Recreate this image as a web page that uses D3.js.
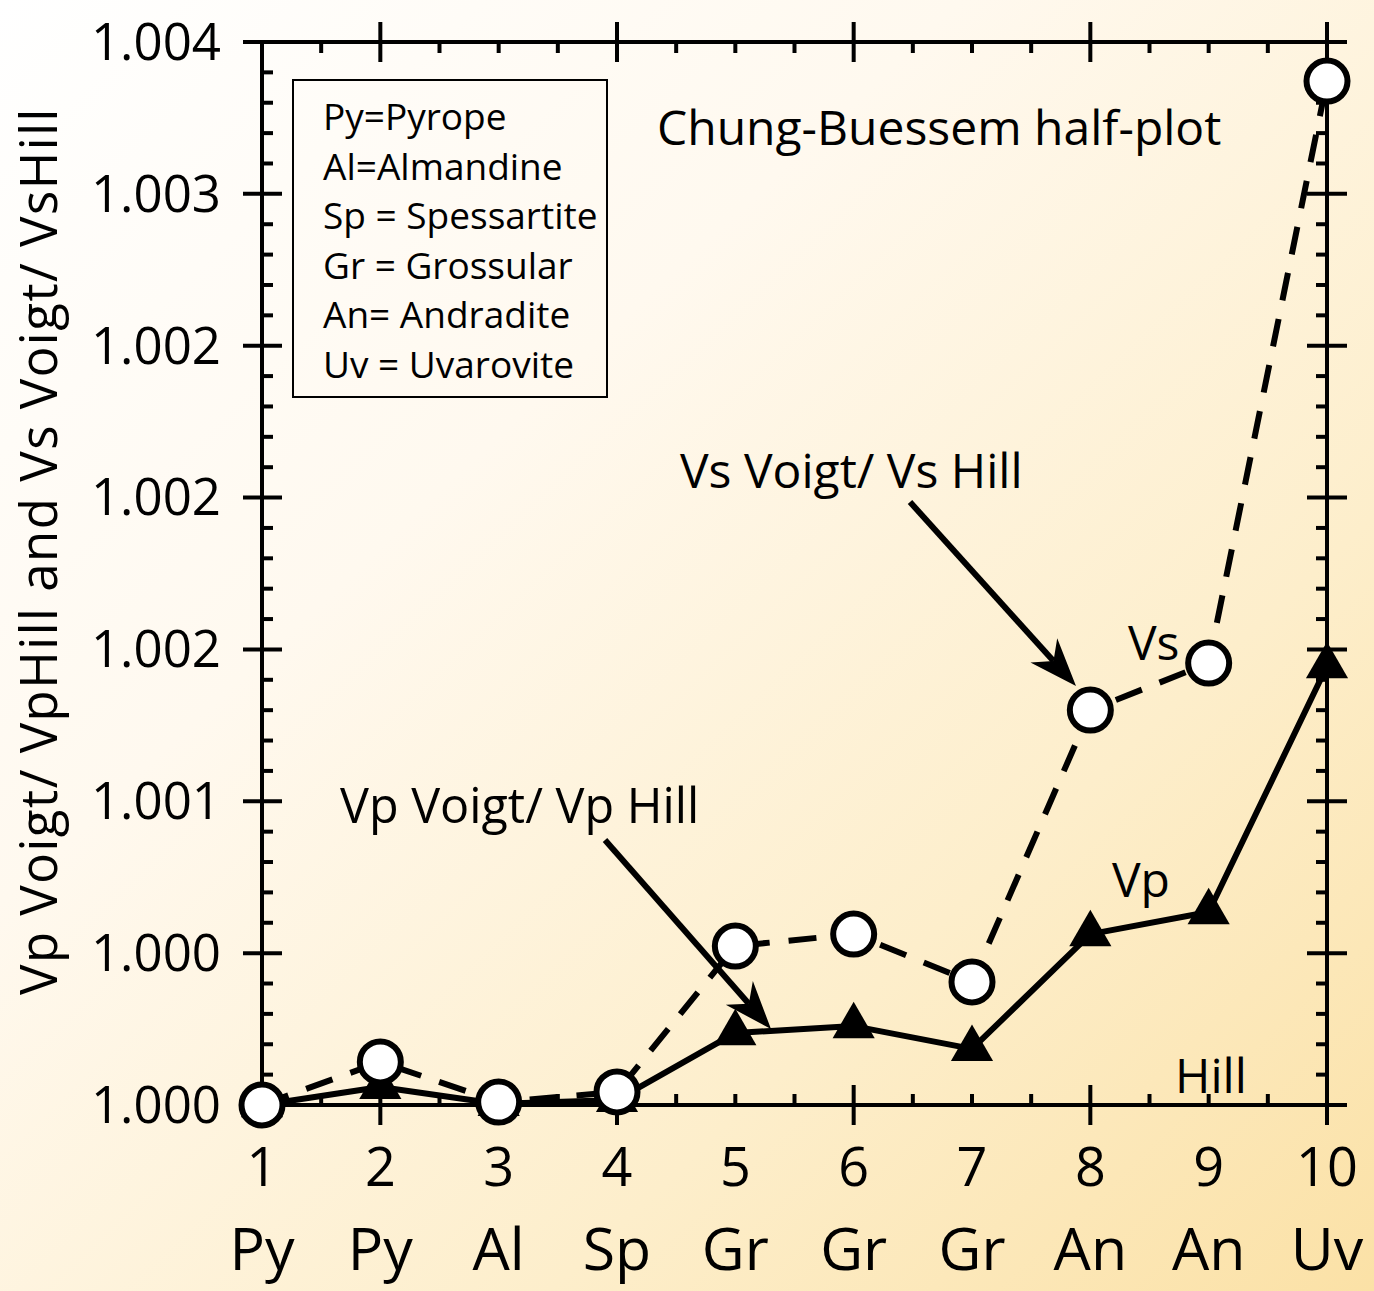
<!DOCTYPE html>
<html>
<head>
<meta charset="utf-8">
<script src="https://cdn.jsdelivr.net/npm/d3@7"></script>
<style>
html,body{margin:0;padding:0;overflow:hidden;}
svg{display:block;}
text{font-family:"Open Sans","Noto Sans",sans-serif;fill:#000;}
</style>
</head>
<body>
<svg id="chart" width="1374" height="1291"></svg>
<script>
// ---- data ----
const positions = [1,2,3,4,5,6,7,8,9,10];
const categories = ["Py","Py","Al","Sp","Gr","Gr","Gr","An","An","Uv"];
const vsRatio = [1.000000,1.000162,1.000011,1.000049,1.000598,1.000643,1.000463,1.001486,1.001663,1.003853];
const vpRatio = [1.000000,1.000068,1.000004,1.000019,1.000271,1.000297,1.000211,1.000643,1.000726,1.001652];
const yTickValues = [1.0, 1.0+0.004/7, 1.0+0.008/7, 1.0+0.012/7, 1.0+0.016/7, 1.0+0.020/7, 1.0+0.024/7, 1.004];
const yTickLabels = ["1.000","1.000","1.001","1.002","1.002","1.002","1.003","1.004"];
const legendLines = ["Py=Pyrope","Al=Almandine","Sp = Spessartite","Gr = Grossular","An= Andradite","Uv = Uvarovite"];

const svg = d3.select("#chart");
const W = 1374, H = 1291;

// background gradient
const defs = svg.append("defs");
const grad = defs.append("linearGradient").attr("id","bg")
  .attr("x1","0").attr("y1","0").attr("x2","1").attr("y2","1");
grad.append("stop").attr("offset","0%").attr("stop-color","#ffffff");
grad.append("stop").attr("offset","35%").attr("stop-color","#fff9ef");
grad.append("stop").attr("offset","70%").attr("stop-color","#fdeecb");
grad.append("stop").attr("offset","100%").attr("stop-color","#fbe1a6");
svg.append("rect").attr("width",W).attr("height",H).attr("fill","url(#bg)");

const x = d3.scaleLinear().domain([1,10]).range([262,1327]);
const y = d3.scaleLinear().domain([1.0,1.004]).range([1105,42]);

const axisG = svg.append("g").attr("stroke","#000").attr("stroke-width",4).attr("fill","none");
// frame
axisG.append("line").attr("x1",x(1)).attr("x2",x(10)).attr("y1",y(1.0)).attr("y2",y(1.0)).attr("stroke-linecap","square");
axisG.append("line").attr("x1",x(1)-19).attr("x2",x(10)+20).attr("y1",y(1.004)).attr("y2",y(1.004));
axisG.append("line").attr("x1",x(1)).attr("x2",x(1)).attr("y1",y(1.004)).attr("y2",y(1.0)+2);
axisG.append("line").attr("x1",x(10)).attr("x2",x(10)).attr("y1",y(1.004)).attr("y2",y(1.0)+2);

// y ticks
const yMinor = [];
for (let i=0;i<yTickValues.length-1;i++){
  for (let k=1;k<5;k++) yMinor.push(yTickValues[i] + (yTickValues[i+1]-yTickValues[i])*k/5);
}
yTickValues.forEach(v=>{
  axisG.append("line").attr("x1",x(1)-19).attr("x2",x(1)+20).attr("y1",y(v)).attr("y2",y(v));
  axisG.append("line").attr("x1",x(10)-20).attr("x2",x(10)+20).attr("y1",y(v)).attr("y2",y(v));
});
yMinor.forEach(v=>{
  axisG.append("line").attr("x1",x(1)).attr("x2",x(1)+11).attr("y1",y(v)).attr("y2",y(v));
  axisG.append("line").attr("x1",x(10)-11).attr("x2",x(10)).attr("y1",y(v)).attr("y2",y(v));
});
// x ticks
const xMajor = [2,4,6,8,10];
const xMinor = d3.range(1.5,10,0.5).filter(v=>!xMajor.includes(v));
xMajor.forEach(v=>{
  axisG.append("line").attr("x1",x(v)).attr("x2",x(v)).attr("y1",y(1.0)-20).attr("y2",y(1.0)+20);
  axisG.append("line").attr("x1",x(v)).attr("x2",x(v)).attr("y1",y(1.004)-20).attr("y2",y(1.004)+20);
});
xMinor.forEach(v=>{
  axisG.append("line").attr("x1",x(v)).attr("x2",x(v)).attr("y1",y(1.0)-11).attr("y2",y(1.0));
  axisG.append("line").attr("x1",x(v)).attr("x2",x(v)).attr("y1",y(1.004)).attr("y2",y(1.004)+11);
});

// y tick labels
svg.append("g").selectAll("text").data(yTickValues).join("text")
  .attr("x",221).attr("y",d=>y(d)).attr("dy","0.35em")
  .attr("text-anchor","end").attr("font-size",51).text((d,i)=>yTickLabels[i]);

// x tick labels
svg.append("g").selectAll("text").data(positions).join("text")
  .attr("x",d=>x(d)).attr("y",1186).attr("text-anchor","middle").attr("font-size",54)
  .text(d=>String(d));
svg.append("g").selectAll("text").data(positions).join("text")
  .attr("x",d=>x(d)).attr("y",1270).attr("text-anchor","middle").attr("font-size",59)
  .text((d,i)=>categories[i]);

// y axis title
svg.append("text").attr("transform","translate(57,551) rotate(-90)")
  .attr("text-anchor","middle").attr("font-size",51).attr("letter-spacing",1.5)
  .text("Vp Voigt/ VpHill and  Vs Voigt/ VsHill");

// legend box
svg.append("rect").attr("x",293).attr("y",80).attr("width",314).attr("height",317)
  .attr("fill","none").attr("stroke","#000").attr("stroke-width",2);
svg.append("g").selectAll("text").data(legendLines).join("text")
  .attr("x",323).attr("y",(d,i)=>130+i*49.6).attr("font-size",37).text(d=>d);

// annotations
svg.append("text").attr("x",657).attr("y",145).attr("font-size",48).text("Chung-Buessem half-plot");
svg.append("text").attr("x",680).attr("y",488).attr("font-size",48).text("Vs Voigt/ Vs Hill");
svg.append("text").attr("x",340).attr("y",823).attr("font-size",48.5).text("Vp Voigt/ Vp Hill");
svg.append("text").attr("x",1128).attr("y",660).attr("font-size",48).text("Vs");
svg.append("text").attr("x",1112).attr("y",897).attr("font-size",48).text("Vp");
svg.append("text").attr("x",1175).attr("y",1093).attr("font-size",48).text("Hill");

// arrows
function arrow(x1,y1,x2,y2){
  const ang = Math.atan2(y2-y1,x2-x1);
  const L = 48, Wd = 18;
  const bx = x2 - L*Math.cos(ang), by = y2 - L*Math.sin(ang);
  const nx = -Math.sin(ang), ny = Math.cos(ang);
  const ix = x2 - 0.7*L*Math.cos(ang), iy = y2 - 0.7*L*Math.sin(ang);
  svg.append("line").attr("x1",x1).attr("y1",y1).attr("x2",ix).attr("y2",iy)
    .attr("stroke","#000").attr("stroke-width",6);
  svg.append("path").attr("d",`M${x2},${y2}L${bx+nx*Wd},${by+ny*Wd}L${ix},${iy}L${bx-nx*Wd},${by-ny*Wd}Z`)
    .attr("fill","#000");
}
arrow(910,502,1076,686);
arrow(605,840,771,1029);

// Vp line
const line = d3.line().x((d,i)=>x(positions[i])).y(d=>y(d));
svg.append("path").attr("d",line(vpRatio)).attr("fill","none")
  .attr("stroke","#000").attr("stroke-width",6).attr("stroke-linejoin","round");
// Vs dashed line
svg.append("path").attr("d",line(vsRatio)).attr("fill","none")
  .attr("stroke","#000").attr("stroke-width",6).attr("stroke-dasharray","28,19");

// Vp triangles
const tri = d3.symbol().type(d3.symbolTriangle).size(770);
svg.append("g").selectAll("path").data(vpRatio).join("path")
  .attr("d",tri).attr("transform",(d,i)=>`translate(${x(positions[i])},${y(d)})`)
  .attr("fill","#000");
// Vs circles
svg.append("g").selectAll("circle").data(vsRatio).join("circle")
  .attr("cx",(d,i)=>x(positions[i])).attr("cy",d=>y(d)).attr("r",20.5)
  .attr("fill","#fff").attr("stroke","#000").attr("stroke-width",6);
</script>
</body>
</html>
